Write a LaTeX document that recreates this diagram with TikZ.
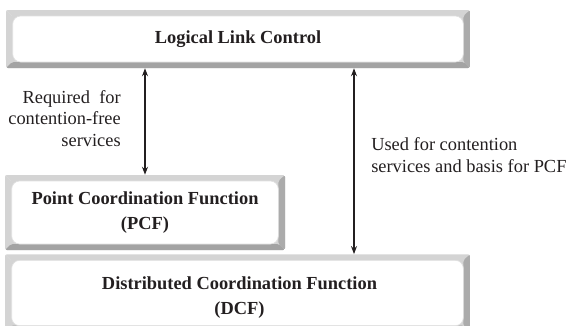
\documentclass[tikz,border=0pt]{standalone}
\usepackage{fontspec}
\setmainfont{Liberation Serif}
\usetikzlibrary{arrows.meta}
\definecolor{bevlight}{HTML}{D4D4D4}
\definecolor{bevdark}{HTML}{A3A3A3}
\definecolor{bevright}{HTML}{ABABAB}
\definecolor{inkc}{HTML}{231F20}
\tikzset{
  boxtext/.style={text=inkc, align=center, font=\fontsize{13.8}{19}\selectfont\bfseries},
  bevelbox/.style={rectangle, rounded corners=1.5pt, inner sep=0pt, boxtext,
    path picture={
      \fill[bevlight] (path picture bounding box.south west) rectangle (path picture bounding box.north east);
      \fill[bevdark] (path picture bounding box.south west) -- (path picture bounding box.south east)
        -- ([xshift=-4.5pt,yshift=4.5pt]path picture bounding box.south east)
        -- ([xshift=4.5pt,yshift=4.5pt]path picture bounding box.south west) -- cycle;
      \fill[bevright] (path picture bounding box.south east) -- (path picture bounding box.north east)
        -- ([xshift=-5pt,yshift=-4.5pt]path picture bounding box.north east)
        -- ([xshift=-5pt,yshift=4.5pt]path picture bounding box.south east) -- cycle;
      \draw[white!85!black, line width=0.4pt] (path picture bounding box.north west) -- ([xshift=4.5pt,yshift=-4.5pt]path picture bounding box.north west);
      \fill[white, draw=white!88!black, line width=0.5pt, rounded corners=6pt]
        ([xshift=5pt,yshift=4.5pt]path picture bounding box.south west) rectangle
        ([xshift=-5pt,yshift=-4.5pt]path picture bounding box.north east);
    }},
  conn/.style={{Stealth[length=6pt,width=4.5pt]}-{Stealth[length=6pt,width=4.5pt]}, line width=0.8pt, inkc},
  note/.style={text=inkc, font=\fontsize{13.8}{16}\selectfont, inner sep=0pt}
}
\begin{document}
\begin{tikzpicture}[x=0.75pt,y=-0.75pt]
\useasboundingbox (0,0) rectangle (567,325);
\clip (0,0) rectangle (567,325);
\node[bevelbox, minimum width=348pt, minimum height=43.5pt] (llc) at (238,39) {Logical Link Control};
\node[bevelbox, minimum width=210pt, minimum height=56.25pt] (pcf) at (145,212.5) {Point Coordination Function\\(PCF)};
\node[bevelbox, minimum width=348.75pt, minimum height=58pt,
  label={[name=dcftxt, boxtext, inner sep=0pt, yshift=-3.2pt, xshift=1.5pt]center:Distributed Coordination Function\\(DCF)}] (dcf) at (237.5,293) {};
\coordinate (la) at (145,0);
\coordinate (ra) at (354,0);
\draw[conn] (llc.south -| la) -- (pcf.north -| la);
\draw[conn] (llc.south -| ra) -- (dcf.north -| ra);
\node[note, anchor=east, align=right] (reqtxt) at (121,118.5) {Required\hspace{3.5pt} for\\contention-free\\services};
\node[note, anchor=west, align=left] (usedtxt) at (371,155) {Used for contention\\services and basis for PCF};
\end{tikzpicture}
\end{document}
